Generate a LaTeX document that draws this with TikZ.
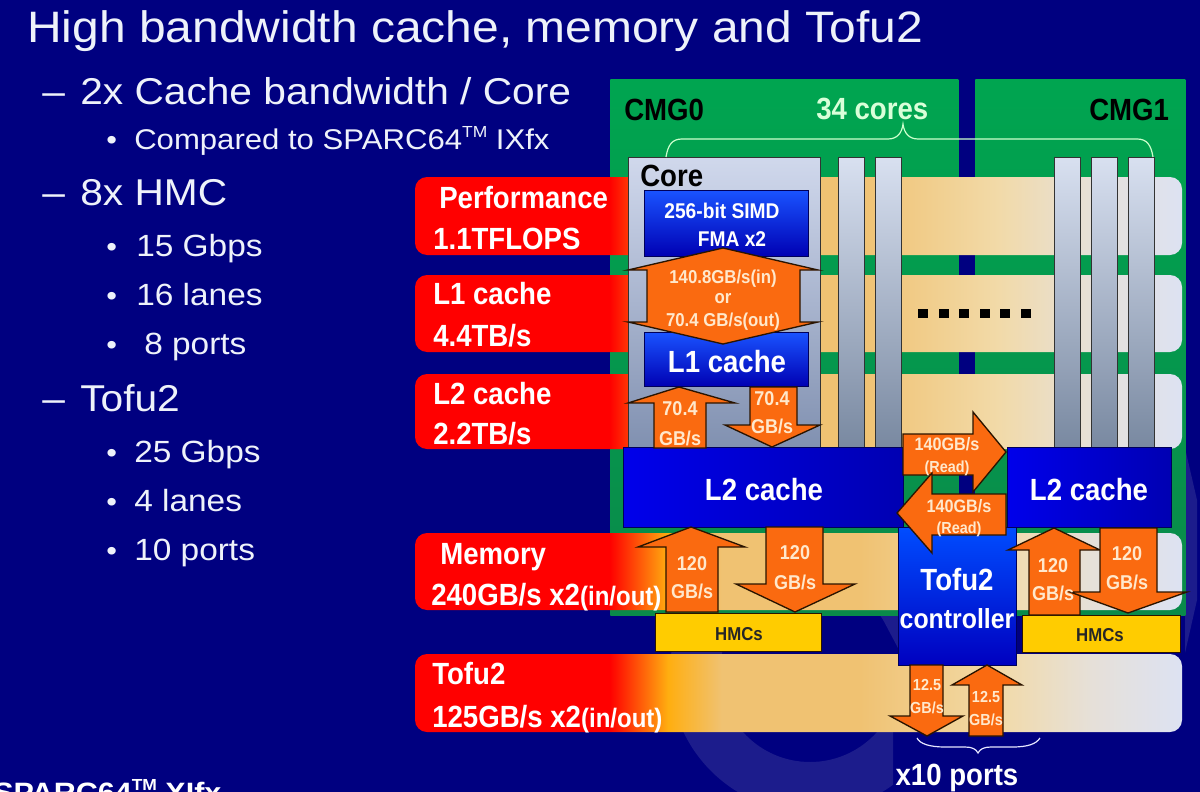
\documentclass[tikz,border=0pt]{standalone}
\usepackage{fontspec}
\setmainfont{Liberation Sans}
\newfontfamily\nb[FakeStretch=.9]{Liberation Sans}
\newfontfamily\ws[FakeStretch=1.09]{Liberation Sans}
\usetikzlibrary{shapes.geometric,decorations.pathreplacing}
\newcommand\fz[1]{\fontsize{#1}{#1}\selectfont}
\newcommand\tmark[1]{\raisebox{.42em}{\fz{#1}TM}}
\definecolor{navy}{HTML}{000080}
\definecolor{ringblue}{HTML}{1C1C8C}
\definecolor{greenA}{HTML}{00A550}
\definecolor{greenB}{HTML}{0A8A4A}
\definecolor{arrowfill}{HTML}{FA6A10}
\definecolor{arrowline}{HTML}{2A1400}
\definecolor{cream}{HTML}{FFE8CC}
\definecolor{paper}{HTML}{EEF2FA}
\definecolor{rowtan}{HTML}{F0C272}
\definecolor{rowtanb}{HTML}{F2DAA8}
\definecolor{rowlight}{HTML}{E6E0D8}
\definecolor{rowlightb}{HTML}{DDE2F2}
\definecolor{rowamber}{HTML}{FFAE10}
\definecolor{coretop}{HTML}{D0D8EC}
\definecolor{corebot}{HTML}{8090B0}
\definecolor{coltop}{HTML}{D8E0F0}
\definecolor{colbot}{HTML}{7888A0}
\definecolor{hmcyellow}{HTML}{FFCC00}
\pgfdeclarehorizontalshading{rowshade}{100bp}{
 color(0bp)=(red); color(37.7bp)=(red); color(41.5bp)=(rowamber);
 color(45bp)=(rowtan); color(54bp)=(rowtan); color(63bp)=(rowtanb); color(69bp)=(rowlight); color(75bp)=(rowlightb); color(100bp)=(rowlightb)}
\tikzset{
 px/.style={x=.75pt,y=-.75pt},
 rowband/.style={shading=rowshade,rounded corners=9pt},
 cmg/.style={top color=greenA,bottom color=greenB,draw=none},
 corebox/.style={top color=coretop,bottom color=corebot,draw=black!80,line width=1pt},
 colbox/.style={top color=coltop,bottom color=colbot,draw=black!80,line width=1pt},
 bluebox/.style={top color=blue!75!cyan!90,bottom color=blue!70!black,draw=navy!70!black,line width=.8pt},
 bigblue/.style={left color=blue!92!black,right color=blue!70!black,draw=navy!70!black,line width=.8pt},
 tofubox/.style={top color=blue!70!cyan,bottom color=blue!75!black,draw=navy!70!black,line width=.8pt},
 hmcbox/.style={fill=hmcyellow,draw=arrowline,line width=.8pt},
 blockarrow/.style={fill=arrowfill,draw=arrowline,line width=1pt,line join=miter},
 txt/.style={inner sep=0pt,anchor=base west,text=paper,font=\ws\fz{28}},
 sub/.style={inner sep=0pt,anchor=base west,text=paper,font=\ws\fz{21}},
 sublg/.style={inner sep=0pt,anchor=base west,text=paper,font=\ws\fz{23}},
 lab/.style={inner sep=0pt,anchor=base west,text=white,font=\nb\bfseries\fz{23}},
 blk/.style={inner sep=0pt,anchor=base west,text=black,font=\nb\bfseries\fz{23}},
 bx/.style={inner sep=0pt,anchor=base,text=white,font=\nb\bfseries\fz{23}},
 small/.style={inner sep=0pt,anchor=base,text=cream,font=\nb\bfseries\fz{15}},
 tiny/.style={inner sep=0pt,anchor=base,text=cream,font=\nb\bfseries\fz{12}},
 hmctxt/.style={inner sep=0pt,anchor=base,text=black!85,font=\nb\bfseries\fz{14}},
}
\begin{document}
\begin{tikzpicture}[px]
\useasboundingbox (0,0) rectangle (1200,792);
\clip (0,0) rectangle (1200,792);
\fill[navy] (0,0) rectangle (1200,792);
% faint background graphic
\begin{scope}
\clip (600,600) rectangle (893,792);
\fill[ringblue,even odd rule] (810,672) circle (140) (810,672) circle (90);
\end{scope}
\fill[ringblue] (880,614)--(898,614)--(898,648)--cycle;
\fill[ringblue] (1185,448)--(1197,500)--(1197,600)--(1185,653)--cycle;
% CMG
\node[cmg,inner sep=0,minimum width=261pt,minimum height=402pt,anchor=north west] (cmg0) at (610,79) {};
\node[cmg,inner sep=0,minimum width=157.5pt,minimum height=402pt,anchor=north west] (cmg1) at (975,79) {};
% rows
\foreach \t/\b in {177/255,275/352,374/449,533/610,654/732}{
 \shade[rowband] (415,\t) rectangle (1182,\b);
}
% core and columns
\node[corebox,inner sep=0,minimum width=144pt,minimum height=219pt,anchor=north west] (core) at (628,157) {};
\foreach \n/\x in {ca/838,cb/875,cc/1054,cd/1091,ce/1128}{
 \node[colbox,inner sep=0,minimum width=19.5pt,minimum height=219pt,anchor=north west] (\n) at (\x,157) {};
}
% dots
\foreach \i in {0,...,5} \fill[black] (918+\i*20.6,309) rectangle ++(10,9);
% boxes
\node[bluebox,inner sep=0,minimum width=123pt,minimum height=49.5pt,anchor=north west] (simd) at (644,190) {};
\node[bluebox,inner sep=0,minimum width=123pt,minimum height=40.5pt,anchor=north west] (lone) at (644,332) {};
\node[bigblue,inner sep=0,minimum width=210pt,minimum height=60pt,anchor=north west] (ltwoa) at (623,447) {};
\node[bigblue,inner sep=0,minimum width=123pt,minimum height=60pt,anchor=north west] (ltwob) at (1007,447) {};
\node[hmcbox,inner sep=0,minimum width=124.5pt,minimum height=28.5pt,anchor=north west] (hmca) at (655,613) {};
\node[hmcbox,inner sep=0,minimum width=118.5pt,minimum height=27.75pt,anchor=north west] (hmcb) at (1022,615) {};
\node[tofubox,inner sep=0,minimum width=88.5pt,minimum height=103.5pt,anchor=north west] (tofu) at (898,527) {};
% block arrows
\draw[blockarrow] (723,248)--(818,270)--(800,270)--(800,322)--(818,322)--(723,344)--(628,322)--(647,322)--(647,270)--(628,270)--cycle;
\draw[blockarrow] (679,387)--(735,403)--(706,403)--(706,448)--(654,448)--(654,403)--(628,403)--cycle;
\draw[blockarrow] (750,387)--(797,387)--(797,425)--(820,425)--(772,447)--(725,425)--(750,425)--cycle;
\draw[blockarrow] (691,527)--(745,547)--(718,547)--(718,612)--(666,612)--(666,547)--(638,547)--cycle;
\draw[blockarrow] (766,527)--(823,527)--(823,584)--(855,584)--(795,612)--(736,584)--(766,584)--cycle;
\draw[blockarrow] (903,434)--(973,434)--(973,412)--(1006,452)--(973,492)--(973,475)--(903,475)--cycle;
\draw[blockarrow] (1006,494)--(932,494)--(932,473)--(897,513)--(932,553)--(932,535)--(1006,535)--cycle;
\draw[blockarrow] (1054,528)--(1100,550)--(1080,550)--(1080,615)--(1029,615)--(1029,550)--(1008,550)--cycle;
\draw[blockarrow] (1100,528)--(1157,528)--(1157,592)--(1187,592)--(1128,613)--(1070,592)--(1100,592)--cycle;
\draw[blockarrow] (910,665)--(943,665)--(943,716)--(963,716)--(927,736)--(890,716)--(910,716)--cycle;
\draw[blockarrow] (987,665)--(1022,685)--(1003,685)--(1003,736)--(969,736)--(969,685)--(952,685)--cycle;
% braces
\coordinate (braceL) at (666,157);
\coordinate (braceM) at (903,124);
\coordinate (braceR) at (1153,157);
\draw[white!80!green,line width=.9pt] (braceL) .. controls (668,145) and (672,139) .. (682,139) -- (888,139) .. controls (897,139) and (902,133) .. (braceM) .. controls (904,133) and (909,139) .. (918,139) -- (1137,139) .. controls (1147,139) and (1151,145) .. (braceR);
\coordinate (bL) at (917,738);
\coordinate (bM) at (978,753);
\coordinate (bR) at (1040,738);
\draw[white!90!blue,line width=.9pt] (bL) .. controls (920,744) and (930,747) .. (945,747) -- (965,747) .. controls (972,747) and (976,749) .. (bM) .. controls (980,749) and (984,747) .. (991,747) -- (1012,747) .. controls (1028,747) and (1036,744) .. (bR);
% left text
\node[txt,font=\ws\fz{33}] (title) at (27,43) {High bandwidth cache, memory and Tofu2};
\node[txt] (da) at (42,104) {–};
\node[txt] (ta) at (80,104) {2x Cache bandwidth / Core};
\node[sub] (ba) at (106,149) {•};
\node[sub,font=\ws\fz{21.4}] (tb) at (134,149) {Compared to SPARC64\tmark{12} IXfx};
\node[txt] (db) at (42,205) {–};
\node[txt] (tc) at (80,205) {8x HMC};
\node[sub] (bb) at (106,256) {•};
\node[sublg] (td) at (136,256) {15 Gbps};
\node[sub] (bc) at (106,305) {•};
\node[sublg] (te) at (136,305) {16 lanes};
\node[sub] (bd) at (106,354) {•};
\node[sublg] (tf) at (144,354) {8 ports};
\node[txt] (dc) at (42,411) {–};
\node[txt] (tg) at (80,411) {Tofu2};
\node[sub] (be) at (106,462) {•};
\node[sublg] (th) at (134,462) {25 Gbps};
\node[sub] (bf) at (106,511) {•};
\node[sublg] (ti) at (134,511) {4 lanes};
\node[sub] (bg) at (106,560) {•};
\node[sublg] (tj) at (134,560) {10 ports};
\node[txt,font=\ws\bfseries\fz{21},text=white] (foot) at (-7,802) {SPARC64\tmark{12} XIfx};
% row labels
\node[lab] (la) at (439,208) {Performance};
\node[lab] (lb) at (433,249) {1.1TFLOPS};
\node[lab] (lc) at (433,304) {L1 cache};
\node[lab] (ld) at (433,346) {4.4TB/s};
\node[lab] (le) at (433,404) {L2 cache};
\node[lab] (lf) at (433,444) {2.2TB/s};
\node[lab] (lg) at (440,564) {Memory};
\node[lab] (lh) at (431,605) {240GB/s x2{\fz{20}(in/out)}};
\node[lab] (li) at (432,684) {Tofu2};
\node[lab] (lj) at (432,727) {125GB/s x2{\fz{20}(in/out)}};
% chip labels
\node[blk] (cmgz) at (624,120) {CMG0};
\node[blk] (cmgo) at (1089,120) {CMG1};
\node[lab,text=white!85!green] (cores) at (816,119) {34 cores};
\node[blk] (corel) at (640,186) {Core};
\node[bx,font=\nb\bfseries\fz{16}] (sa) at (722,218) {256-bit SIMD};
\node[bx,font=\nb\bfseries\fz{16}] (sb) at (732,246) {FMA x2};
\node[tiny,font=\nb\bfseries\fz{14}] (aa) at (723,283) {140.8GB/s(in)};
\node[tiny,font=\nb\bfseries\fz{14}] (ab) at (723,303) {or};
\node[tiny,font=\nb\bfseries\fz{14}] (ac) at (723,326) {70.4 GB/s(out)};
\node[bx] (lonet) at (727,372) {L1 cache};
\node[bx] (ltat) at (764,500) {L2 cache};
\node[bx] (ltbt) at (1089,500) {L2 cache};
\node[bx] (tofa) at (957,590) {Tofu2};
\node[bx,font=\nb\bfseries\fz{20.7}] (tofb) at (957,628) {controller};
\node[hmctxt] (hma) at (739,640) {HMCs};
\node[hmctxt] (hmb) at (1100,641) {HMCs};
\node[small] (pa) at (680,415) {70.4};
\node[small] (pb) at (680,445) {GB/s};
\node[small] (qa) at (772,405) {70.4};
\node[small] (qb) at (772,433) {GB/s};
\node[small] (ra) at (692,570) {120};
\node[small] (rb) at (692,598) {GB/s};
\node[small] (sc) at (795,559) {120};
\node[small] (sd) at (795,589) {GB/s};
\node[small] (ua) at (1053,572) {120};
\node[small] (ub) at (1053,600) {GB/s};
\node[small] (va) at (1127,560) {120};
\node[small] (vb) at (1127,589) {GB/s};
\node[tiny,font=\nb\bfseries\fz{13.5}] (wa) at (947,450) {140GB/s};
\node[tiny] (wb) at (947,472) {(Read)};
\node[tiny,font=\nb\bfseries\fz{13.5}] (xa) at (959,512) {140GB/s};
\node[tiny] (xb) at (959,533) {(Read)};
\node[tiny] (ya) at (927,690) {12.5};
\node[tiny] (yb) at (927,713) {GB/s};
\node[tiny] (za) at (986,702) {12.5};
\node[tiny] (zb) at (986,725) {GB/s};
\node[bx] (ports) at (957,785) {x10 ports};
\end{tikzpicture}
\end{document}
